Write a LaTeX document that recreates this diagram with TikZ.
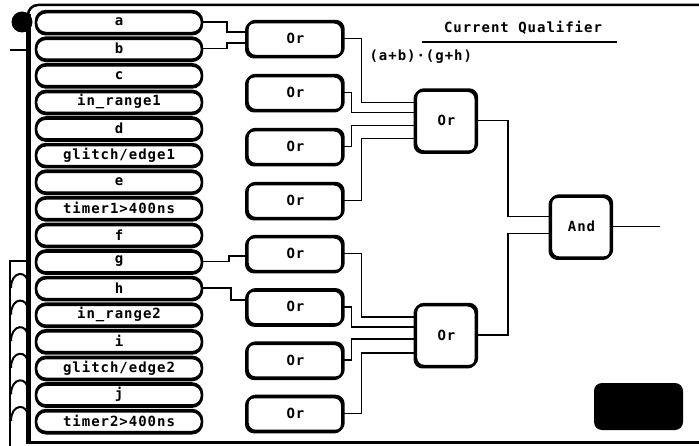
\documentclass[tikz,border=0pt]{standalone}
\usepackage{fontspec}
\usetikzlibrary{calc}
\newfontfamily\hp[LetterSpace=7]{DejaVu Sans Mono}
\begin{document}
\begin{tikzpicture}[x=1pt,y=-1pt,
  lbl/.style={font=\hp\bfseries\fontsize{14}{16}\selectfont},
  pill/.style={draw, line width=2.4pt, rounded corners=10pt, minimum width=166pt, minimum height=22pt, inner sep=0pt, outer sep=0pt, lbl,
    preaction={draw, line width=2.4pt, transform canvas={yshift=-1.3pt}}},
  gate/.style={draw, line width=2.4pt, rounded corners=8pt, minimum width=96pt, minimum height=35pt, inner sep=0pt, outer sep=0pt, lbl,
    preaction={draw, line width=2.4pt, transform canvas={xshift=-1.3pt, yshift=-1.3pt}}},
  big/.style={gate, minimum width=61pt, minimum height=62pt},
  wire/.style={line width=1.6pt},
  deco/.style={line width=1.6pt}]
\useasboundingbox (0,0) rectangle (699,446);
% frame
\draw[line width=2.5pt, rounded corners=10pt] (699,5) -- (28,5) -- (28,40);
\draw[line width=5pt] (28,14) -- (28,443);
\draw[line width=3pt] (26,442) -- (699,442);
% left decorations
\fill (22,22) circle (10.5pt);
\draw[deco] (10,50) -- (28,50);
\draw[deco] (28,261) -- (10,261) -- (10,446);
\foreach \yb in {276,302.6,329.2,355.8,382.4,409}
  \draw[line width=2pt] (11,{\yb+12}) .. controls (11,{\yb-6}) and (28,{\yb-6}) .. (28,{\yb+8});
% signal pills
\foreach \t [count=\i from 0] in {a,b,c,in\_range1,d,glitch/edge1,e,timer1>400ns,f,g,h,in\_range2,i,glitch/edge2,j,timer2>400ns}
  \node[pill] (p\i) at (119,{22+26.6*\i}) {\t};
% first level gates
\foreach \yy [count=\i] in {38.5,92.5,146.5,200.5,253.5,306.8,360.1,413.4}
  \node[gate] (g\i) at (295.5,\yy) {Or};
\node[big] (u) at (446.5,120.5) {Or};
\node[big] (l) at (446.5,335) {Or};
\node[big] (and) at (581.5,226.5) {And};
% inputs
\draw[wire] (p0.east) -- ++(25,0) |- ($(g1.west)+(0,-6.5)$);
\draw[wire] (p1.east) -- ++(25,0) |- ($(g1.west)+(0,4.5)$);
\draw[wire] (p9.east) -- ++(27,0) |- ($(g5.west)+(0,2.5)$);
\draw[wire] (p10.east) -- ++(29,0) |- ($(g6.west)+(0,-6.5)$);
% gate outputs
\draw[wire] (g1.east) -- ++(18,0) |- ($(u.west)+(0,-18)$);
\draw[wire] (g2.east) -- ++(8,0) |- ($(u.west)+(0,-8)$);
\draw[wire] (g3.east) -- ++(8,0) |- ($(u.west)+(0,5)$);
\draw[wire] (g4.east) -- ++(18,0) |- ($(u.west)+(0,18)$);
\draw[wire] (g5.east) -- ++(18,0) |- ($(l.west)+(0,-18)$);
\draw[wire] (g6.east) -- ++(8,0) |- ($(l.west)+(0,-8)$);
\draw[wire] (g7.east) -- ++(8,0) |- ($(l.west)+(0,4)$);
\draw[wire] (g8.east) -- ++(18,0) |- ($(l.west)+(0,18)$);
\draw[wire] (u.east) -- ++(31,0) |- ($(and.west)+(0,-10)$);
\draw[wire] (l.east) -- ++(31,0) |- ($(and.west)+(0,7)$);
\coordinate (out) at (660,226.5);
\draw[wire] (and.east) -- (out);
% title
\node[lbl, anchor=base] (title) at (523,33) {Current Qualifier};
\draw[line width=1.5pt] (422,42) -- (617,42);
\node[lbl, anchor=west] (expr) at (366,57) {(a+b)·(g+h)};
% black key
\node[fill=black, rounded corners=8pt, minimum width=89pt, minimum height=47pt, inner sep=0pt] (blk) at (638.5,406.5) {};
\end{tikzpicture}
\end{document}
